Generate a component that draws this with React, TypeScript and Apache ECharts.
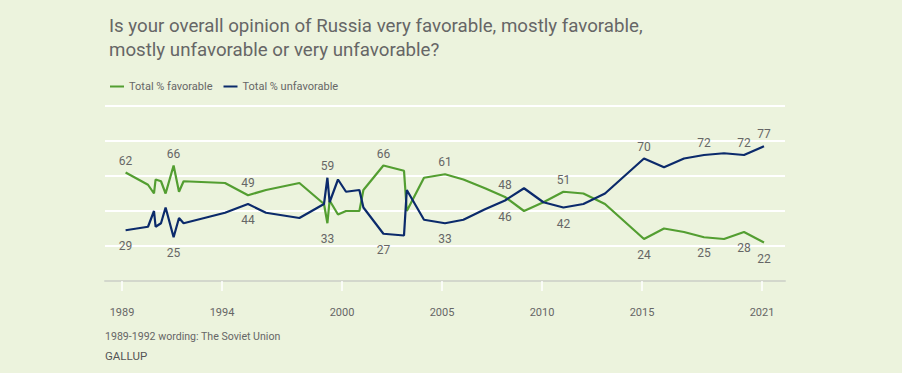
import React, { useEffect, useRef } from "react";
import * as echarts from "echarts";

// Survey dates (decimal years) and percentages
const dates = [
  1989.18, 1990.3, 1990.6, 1990.68, 1990.95, 1991.18, 1991.58, 1991.85, 1992.08,
  1994.15, 1995.3, 1996.2, 1997.87, 1999.1, 1999.27, 1999.38, 1999.8, 2000.2,
  2000.87, 2001.07, 2002.07, 2003.1, 2003.24, 2004.1, 2005.15, 2006.07, 2007.15,
  2008.15, 2009.1, 2010.07, 2011.07, 2012.07, 2013.15, 2015.1, 2016.1, 2017.1,
  2018.1, 2019.1, 2020.1, 2021.1,
];
const favorable = [
  62, 55, 50, 58, 57, 50, 66, 51, 57, 56, 49, 52, 56, 44, 33, 46, 38, 40, 40, 52,
  66, 63, 40, 59, 61, 58, 53, 48, 40, 45, 51, 50, 44, 24, 30, 28, 25, 24, 28, 22,
];
const unfavorable = [
  29, 31, 40, 31, 33, 42, 25, 36, 33, 39, 44, 39, 36, 44, 59, 45, 58, 51, 52, 42,
  27, 26, 52, 35, 33, 35, 41, 46, 53, 45, 42, 44, 50, 70, 65, 70, 72, 73, 72, 77,
];
// indices of points that carry a value label
const labeledIdx = [0, 6, 10, 14, 20, 24, 27, 30, 33, 36, 38, 39];
const tickYears = [1989, 1994, 2000, 2005, 2010, 2015, 2021];
const seriesNames = ["Total % favorable", "Total % unfavorable"];

const GREEN = "#539e31";
const NAVY = "#0b2a6b";
const TEXT = "#666666";
const FONT = "Roboto, 'Noto Sans', sans-serif";

function buildData(values: number[], other: number[]) {
  return values.map((v, i) => {
    const item: any = { value: [dates[i], v] };
    if (labeledIdx.includes(i)) {
      const above = v >= other[i];
      item.label = {
        show: true,
        position: above ? "top" : "bottom",
        distance: above ? 6 : 10,
      };
    }
    return item;
  });
}

export default function App() {
  const ref = useRef<HTMLDivElement>(null);
  useEffect(() => {
    if (!ref.current) return;
    const chart = echarts.init(ref.current, undefined, { renderer: "svg" });
    const labelStyle = {
      color: TEXT,
      fontSize: 12,
      fontFamily: FONT,
      formatter: (p: any) => String(p.value[1]),
    };
    chart.setOption({
      animation: false,
      backgroundColor: "#ecf3dd",
      title: {
        text:
          "Is your overall opinion of Russia very favorable, mostly favorable,\nmostly unfavorable or very unfavorable?",
        left: 104,
        top: 9,
        textStyle: {
          fontSize: 18.7,
          lineHeight: 24,
          fontWeight: "normal",
          color: TEXT,
          fontFamily: FONT,
        },
      },
      legend: {
        left: 105,
        top: 76,
        icon: "rect",
        itemWidth: 14,
        itemHeight: 2,
        itemGap: 11,
        selectedMode: false,
        data: seriesNames,
        textStyle: { fontSize: 11, color: TEXT, fontFamily: FONT },
      },
      grid: {
        left: 105,
        top: 106,
        width: 680,
        height: 175,
        containLabel: false,
        outerBoundsMode: "none",
      },
      xAxis: {
        type: "value",
        min: 1988.15,
        max: 2022.15,
        splitLine: { show: false },
        axisLine: { show: true, lineStyle: { color: "#d3d7cc", width: 2 } },
        axisTick: {
          show: true,
          customValues: tickYears,
          length: 10,
          inside: false,
          lineStyle: { color: "#ffffff", width: 1.5 },
        },
        axisLabel: {
          customValues: tickYears,
          margin: 26,
          color: TEXT,
          fontSize: 11,
          fontFamily: FONT,
          formatter: (v: number) => String(v),
        },
      },
      yAxis: {
        type: "value",
        min: 0,
        max: 100,
        interval: 20,
        axisLine: { show: false },
        axisTick: { show: false },
        axisLabel: { show: false },
        splitLine: { show: true, lineStyle: { color: "#ffffff", width: 2 } },
      },
      series: [
        {
          name: seriesNames[0],
          type: "line",
          data: buildData(favorable, unfavorable),
          showSymbol: true,
          symbol: "circle",
          symbolSize: 0,
          color: GREEN,
          lineStyle: { color: GREEN, width: 2.2 },
          label: labelStyle,
          emphasis: { disabled: true },
          silent: true,
        },
        {
          name: seriesNames[1],
          type: "line",
          data: buildData(unfavorable, favorable),
          showSymbol: true,
          symbol: "circle",
          symbolSize: 0,
          color: NAVY,
          lineStyle: { color: NAVY, width: 2.2 },
          label: labelStyle,
          emphasis: { disabled: true },
          silent: true,
        },
      ],
      graphic: [
        {
          type: "text",
          left: 105,
          top: 331,
          style: {
            text: "1989-1992 wording: The Soviet Union",
            fontSize: 10.6,
            fill: TEXT,
            fontFamily: FONT,
          },
        },
        {
          type: "text",
          left: 105,
          top: 350,
          style: {
            text: "GALLUP",
            fontSize: 11.5,
            fontWeight: "normal",
            fill: "#555555",
            fontFamily: FONT,
          },
        },
      ],
    });
    return () => chart.dispose();
  }, []);
  return (
    <div
      ref={ref}
      style={{ position: "fixed", left: 0, top: 0, width: 902, height: 373 }}
    />
  );
}
